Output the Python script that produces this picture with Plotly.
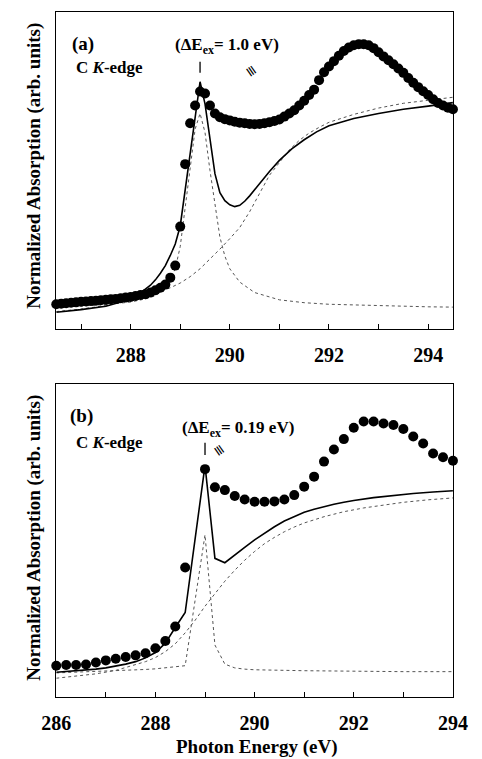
import plotly.graph_objects as go

# ---------------- Panel (a) data ----------------
a_dots_x = [286.5, 286.6, 286.7, 286.8, 286.9, 287.0, 287.1, 287.2, 287.3, 287.4,
            287.5, 287.6, 287.7, 287.8, 287.9, 288.0, 288.1, 288.2, 288.3, 288.4,
            288.5, 288.6, 288.7, 288.8, 288.9, 289.0, 289.1, 289.2, 289.3, 289.4,
            289.5, 289.6, 289.7, 289.8, 289.9, 290.0, 290.1, 290.2, 290.3, 290.4,
            290.5, 290.6, 290.7, 290.8, 290.9, 291.0, 291.1, 291.2, 291.3, 291.4,
            291.5, 291.6, 291.7, 291.8, 291.9, 292.0, 292.1, 292.2, 292.3, 292.4,
            292.5, 292.6, 292.7, 292.8, 292.9, 293.0, 293.1, 293.2, 293.3, 293.4,
            293.5, 293.6, 293.7, 293.8, 293.9, 294.0, 294.1, 294.2, 294.3, 294.4, 294.5]
a_dots_y = [0.078, 0.080, 0.081, 0.083, 0.084, 0.086, 0.087, 0.088, 0.089, 0.091,
            0.092, 0.094, 0.095, 0.097, 0.099, 0.101, 0.104, 0.107, 0.110, 0.115,
            0.122, 0.130, 0.140, 0.162, 0.200, 0.323, 0.520, 0.649, 0.705, 0.749,
            0.743, 0.705, 0.680, 0.668, 0.662, 0.658, 0.654, 0.651, 0.649, 0.647,
            0.646, 0.647, 0.649, 0.652, 0.656, 0.661, 0.670, 0.680, 0.690, 0.705,
            0.720, 0.738, 0.755, 0.785, 0.810, 0.828, 0.845, 0.862, 0.877, 0.888,
            0.895, 0.898, 0.898, 0.895, 0.886, 0.873, 0.860, 0.848, 0.835, 0.822,
            0.808, 0.792, 0.777, 0.763, 0.750, 0.738, 0.725, 0.713, 0.705, 0.698, 0.693]

a_fit_x = [286.5, 287.0, 287.5, 287.8, 288.0, 288.2, 288.4, 288.5, 288.6, 288.7,
           288.8, 288.9, 289.0, 289.1, 289.2, 289.3, 289.4, 289.5, 289.6, 289.7,
           289.8, 289.9, 290.0, 290.1, 290.2, 290.3, 290.4, 290.5, 290.6, 290.8,
           291.0, 291.25, 291.5, 291.75, 292.0, 292.5, 293.0, 293.5, 294.0, 294.5]
a_fit_y = [0.053, 0.061, 0.072, 0.085, 0.097, 0.114, 0.138, 0.155, 0.176, 0.200,
           0.232, 0.268, 0.325, 0.44, 0.555, 0.67, 0.78, 0.71, 0.60, 0.49,
           0.43, 0.405, 0.392, 0.386, 0.390, 0.403, 0.420, 0.440, 0.460, 0.497,
           0.532, 0.568, 0.597, 0.622, 0.641, 0.664, 0.680, 0.693, 0.703, 0.714]

a_step_x = [286.5, 287.0, 287.5, 288.0, 288.4, 288.8, 289.0, 289.2, 289.4, 289.6,
            289.8, 290.0, 290.2, 290.4, 290.6, 290.8, 291.0, 291.2, 291.4, 291.6,
            291.8, 292.0, 292.5, 293.0, 293.5, 294.0, 294.5]
a_step_y = [0.055, 0.063, 0.074, 0.092, 0.110, 0.130, 0.145, 0.165, 0.190, 0.220,
            0.252, 0.285, 0.320, 0.370, 0.430, 0.485, 0.525, 0.565, 0.595, 0.618,
            0.636, 0.652, 0.677, 0.697, 0.712, 0.722, 0.731]

a_peak_x = [286.5, 287.0, 287.5, 288.0, 288.3, 288.5, 288.7, 288.8, 288.9, 289.0,
            289.1, 289.2, 289.3, 289.4, 289.5, 289.6, 289.7, 289.8, 289.9, 290.0,
            290.2, 290.5, 291.0, 291.5, 292.0, 293.0, 294.0, 294.5]
a_peak_y = [0.068, 0.072, 0.077, 0.085, 0.095, 0.105, 0.130, 0.150, 0.190, 0.260,
            0.385, 0.520, 0.630, 0.680, 0.620, 0.500, 0.390, 0.290, 0.230, 0.190,
            0.148, 0.115, 0.092, 0.083, 0.078, 0.073, 0.070, 0.069]

a_tickvals = [288, 290, 292, 294]
a_ticktext = ["288", "290", "292", "294"]

# ---------------- Panel (b) data ----------------
b_dots_x = [286.0, 286.2, 286.4, 286.6, 286.8, 287.0, 287.2, 287.4, 287.6, 287.8,
            288.0, 288.2, 288.4, 288.6, 289.0, 289.2, 289.4, 289.6, 289.8, 290.0,
            290.2, 290.4, 290.6, 290.8, 291.0, 291.2, 291.4, 291.6, 291.8, 292.0,
            292.2, 292.4, 292.6, 292.8, 293.0, 293.2, 293.4, 293.6, 293.8, 294.0]
b_dots_y = [0.100, 0.102, 0.102, 0.104, 0.110, 0.117, 0.122, 0.128, 0.133, 0.140,
            0.156, 0.179, 0.225, 0.414, 0.728, 0.670, 0.661, 0.642, 0.631, 0.624,
            0.624, 0.625, 0.631, 0.645, 0.672, 0.704, 0.752, 0.791, 0.824, 0.860,
            0.880, 0.880, 0.874, 0.869, 0.856, 0.832, 0.810, 0.778, 0.766, 0.755]

b_fit_x = [286.0, 286.2, 286.4, 286.6, 286.8, 287.0, 287.2, 287.4, 287.6, 287.8,
           288.0, 288.2, 288.4, 288.6, 289.0, 289.2, 289.4, 289.6, 289.8, 290.0,
           290.2, 290.4, 290.6, 290.8, 291.0, 291.2, 291.4, 291.6, 291.8, 292.0,
           292.4, 292.8, 293.2, 293.6, 294.0]
b_fit_y = [0.079, 0.081, 0.083, 0.086, 0.089, 0.093, 0.098, 0.105, 0.113, 0.125,
           0.142, 0.172, 0.222, 0.270, 0.740, 0.443, 0.429, 0.452, 0.478, 0.502,
           0.524, 0.544, 0.562, 0.577, 0.590, 0.600, 0.609, 0.616, 0.622, 0.628,
           0.637, 0.644, 0.650, 0.655, 0.659]

b_step_x = [286.0, 286.4, 286.8, 287.2, 287.6, 287.8, 288.0, 288.2, 288.4, 288.6,
            288.8, 289.0, 289.2, 289.4, 289.6, 289.8, 290.0, 290.2, 290.4, 290.6,
            290.8, 291.0, 291.4, 291.8, 292.2, 292.6, 293.0, 293.5, 294.0]
b_step_y = [0.060, 0.066, 0.074, 0.085, 0.102, 0.113, 0.126, 0.145, 0.170, 0.205,
            0.245, 0.290, 0.330, 0.370, 0.405, 0.437, 0.465, 0.490, 0.510, 0.528,
            0.543, 0.556, 0.576, 0.592, 0.604, 0.614, 0.622, 0.630, 0.636]

b_peak_x = [286.0, 286.2, 286.4, 286.6, 286.8, 287.0, 287.2, 287.4, 287.6, 287.8,
            288.0, 288.2, 288.4, 288.6, 289.0, 289.2, 289.4, 289.6, 289.8, 290.0,
            291.0, 292.0, 293.0, 294.0]
b_peak_y = [0.077, 0.078, 0.079, 0.080, 0.081, 0.082, 0.083, 0.085, 0.086, 0.088,
            0.090, 0.093, 0.096, 0.100, 0.518, 0.166, 0.105, 0.093, 0.089, 0.087,
            0.084, 0.082, 0.081, 0.081]

b_tickvals = [286, 288, 290, 292, 294]
b_ticktext = ["286", "288", "290", "292", "294"]

# ---------------- Figure ----------------
W, H = 482, 759
FONT = "Liberation Serif"
DOT_LINE = dict(color="#555555", width=1, dash="dot")
FIT_LINE = dict(color="black", width=1.6)

fig = go.Figure()

def add_panel(xa, ya, dots_x, dots_y, fit_x, fit_y, step_x, step_y, peak_x, peak_y):
    fig.add_trace(go.Scatter(x=peak_x, y=peak_y, mode="lines", line=DOT_LINE,
                             xaxis=xa, yaxis=ya, showlegend=False))
    fig.add_trace(go.Scatter(x=step_x, y=step_y, mode="lines", line=DOT_LINE,
                             xaxis=xa, yaxis=ya, showlegend=False))
    fig.add_trace(go.Scatter(x=fit_x, y=fit_y, mode="lines", line=FIT_LINE,
                             xaxis=xa, yaxis=ya, showlegend=False))
    fig.add_trace(go.Scatter(x=dots_x, y=dots_y, mode="markers",
                             marker=dict(color="black", size=10, line=dict(width=0)),
                             cliponaxis=False, xaxis=xa, yaxis=ya, showlegend=False))

add_panel("x", "y", a_dots_x, a_dots_y, a_fit_x, a_fit_y, a_step_x, a_step_y, a_peak_x, a_peak_y)
add_panel("x2", "y2", b_dots_x, b_dots_y, b_fit_x, b_fit_y, b_step_x, b_step_y, b_peak_x, b_peak_y)

xdom = [44 / W, 467 / W]
ydom_a = [1 - 329 / H, 1 - 12 / H]
ydom_b = [1 - 697 / H, 1 - 384 / H]

xcommon = dict(showgrid=False, zeroline=False, showline=True, linecolor="black",
               linewidth=1.3, mirror=True, ticks="inside", ticklen=5, tickwidth=1,
               tickcolor="black", ticklabelstandoff=8,
               minor=dict(dtick=1, tick0=286, ticks="inside", ticklen=5, tickwidth=1,
                          tickcolor="black", showgrid=False),
               tickfont=dict(family=FONT, size=20, color="black", weight="bold"))
ycommon = dict(showgrid=False, zeroline=False, showline=True, linecolor="black",
               linewidth=1.3, mirror=True, ticks="", showticklabels=False, range=[0, 1])

fig.update_layout(
    width=W, height=H, margin=dict(l=0, r=0, t=0, b=0),
    paper_bgcolor="white", plot_bgcolor="white",
    xaxis=dict(domain=xdom, anchor="y", range=[286.5, 294.5], tickmode="array",
               tickvals=a_tickvals, ticktext=a_ticktext, **xcommon),
    yaxis=dict(domain=ydom_a, anchor="x", **ycommon),
    xaxis2=dict(domain=xdom, anchor="y2", range=[286, 294], tickmode="array",
                tickvals=b_tickvals, ticktext=b_ticktext, **xcommon),
    yaxis2=dict(domain=ydom_b, anchor="x2", **ycommon),
)

def px(x):
    return x / W

def py(y):
    return 1 - y / H

bold = lambda s: dict(family=FONT, size=s, color="black", weight="bold")

ann = []
for cy in (166, 538):
    ann.append(dict(text="Normalized Absorption (arb. units)", x=px(20), y=py(cy),
                    xref="paper", yref="paper", showarrow=False, textangle=-90,
                    font=bold(19), xanchor="center", yanchor="middle"))
ann.append(dict(text="Photon Energy (eV)", x=px(257), y=py(747), xref="paper", yref="paper",
                showarrow=False, font=bold(19), xanchor="center", yanchor="middle"))
ann.append(dict(text="(a)", x=px(72), y=py(44), xref="paper", yref="paper", showarrow=False,
                font=bold(19), xanchor="center", yanchor="middle"))
ann.append(dict(text="C <i>K</i>-edge", x=px(63), y=py(68), xref="paper", yref="paper",
                showarrow=False, font=bold(17), xanchor="left", yanchor="middle"))
ann.append(dict(text="(ΔE<sub>ex</sub>= 1.0 eV)", x=px(226), y=py(46), xref="paper", yref="paper",
                showarrow=False, font=bold(17), xanchor="center", yanchor="middle"))
ann.append(dict(text="(b)", x=px(71), y=py(416), xref="paper", yref="paper", showarrow=False,
                font=bold(19), xanchor="center", yanchor="middle"))
ann.append(dict(text="C <i>K</i>-edge", x=px(63), y=py(442), xref="paper", yref="paper",
                showarrow=False, font=bold(17), xanchor="left", yanchor="middle"))
ann.append(dict(text="(ΔE<sub>ex</sub>= 0.19 eV)", x=px(238), y=py(429), xref="paper", yref="paper",
                showarrow=False, font=bold(17), xanchor="center", yanchor="middle"))
ann.append(dict(text="≡", x=290.45, y=0.815, xref="x", yref="y", showarrow=False, textangle=55,
                font=dict(family="DejaVu Sans", size=14, color="black")))
ann.append(dict(text="≡", x=289.3, y=0.79, xref="x2", yref="y2", showarrow=False, textangle=55,
                font=dict(family="DejaVu Sans", size=14, color="black")))

shapes = [
    dict(type="line", xref="x", yref="y", x0=289.4, x1=289.4, y0=0.808, y1=0.843,
         line=dict(color="black", width=1.3)),
    dict(type="line", xref="x2", yref="y2", x0=289.0, x1=289.0, y0=0.773, y1=0.812,
         line=dict(color="black", width=1.3)),
]

fig.update_layout(annotations=ann, shapes=shapes)
fig.write_html("out.html", config={"displayModeBar": False},
               post_script="document.body.style.margin='0';document.body.style.overflow='hidden';")
